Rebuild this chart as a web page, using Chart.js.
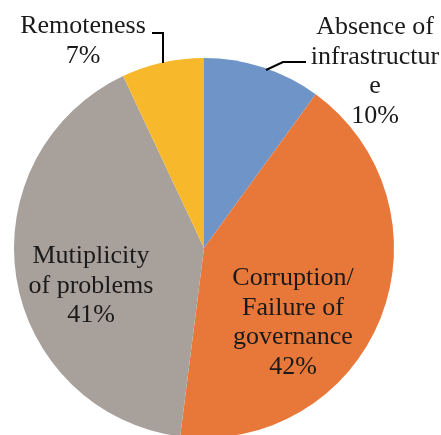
<!DOCTYPE html>
<html lang="en">
<head>
  <meta charset="UTF-8" />
  <title>Pie chart</title>
  <script src="https://cdn.jsdelivr.net/npm/chart.js"></script>
  <style>
    html, body { margin: 0; padding: 0; background: #fff; overflow: hidden; }
    #wrap { position: absolute; left: 0; top: 0; width: 441px; height: 480px; }
  </style>
</head>
<body>
  <div id="wrap"><canvas id="chart"></canvas></div>

  <script>
    // data, clockwise from top
    const categories = ['Absence of infrastructure', 'Corruption/ Failure of governance', 'Mutiplicity of problems', 'Remoteness'];
    const shares = [10, 42, 41, 7];
    const colors = ['#6F94C8', '#E8773A', '#A8A09B', '#F7B82B'];

    // label text as printed on the chart (line breaks kept)
    const labelLines = [
      ['Absence of', 'infrastructur', 'e', '10%'],
      ['Corruption/', 'Failure of', 'governance', '42%'],
      ['Mutiplicity', 'of problems', '41%'],
      ['Remoteness', '7%']
    ];

    // where each label block sits: x centre, first baseline (offsets from pie centre)
    const labelPos = [
      { dx: 171, dy: -214 },
      { dx: 89, dy: 37 },
      { dx: -113, dy: 15 },
      { dx: -121, dy: -215 }
    ];

    // leader lines, offsets from pie centre
    const leaders = [
      [[62, -178], [79, -186], [102, -186]],
      null,
      null,
      [[-52, -215], [-41, -215], [-41, -185]]
    ];

    const labelPlugin = {
      id: 'labels',
      afterDraw(chart) {
        const ctx = chart.ctx;
        const arc = chart.getDatasetMeta(0).data[0];
        const cx = arc.x, cy = arc.y;
        ctx.save();
        ctx.font = '26px "Liberation Serif", "Times New Roman", serif';
        ctx.fillStyle = '#1a1a1a';
        ctx.textAlign = 'center';
        ctx.textBaseline = 'alphabetic';
        labelLines.forEach((lines, i) => {
          lines.forEach((t, j) => {
            ctx.fillText(t, cx + labelPos[i].dx, cy + labelPos[i].dy + j * 29.5);
          });
        });
        ctx.strokeStyle = '#000';
        ctx.lineWidth = 2;
        leaders.forEach(pts => {
          if (!pts) return;
          ctx.beginPath();
          ctx.moveTo(cx + pts[0][0], cy + pts[0][1]);
          for (let k = 1; k < pts.length; k++) ctx.lineTo(cx + pts[k][0], cy + pts[k][1]);
          ctx.stroke();
        });
        ctx.restore();
      }
    };

    new Chart(document.getElementById('chart'), {
      type: 'pie',
      data: {
        labels: categories,
        datasets: [{
          data: shares,
          backgroundColor: colors,
          borderWidth: 0
        }]
      },
      options: {
        responsive: true,
        maintainAspectRatio: false,
        animation: false,
        layout: { padding: { left: 14, right: 47, top: 58, bottom: 42 } },
        plugins: {
          legend: { display: false },
          tooltip: { enabled: false }
        }
      },
      plugins: [labelPlugin]
    });
  </script>
</body>
</html>
